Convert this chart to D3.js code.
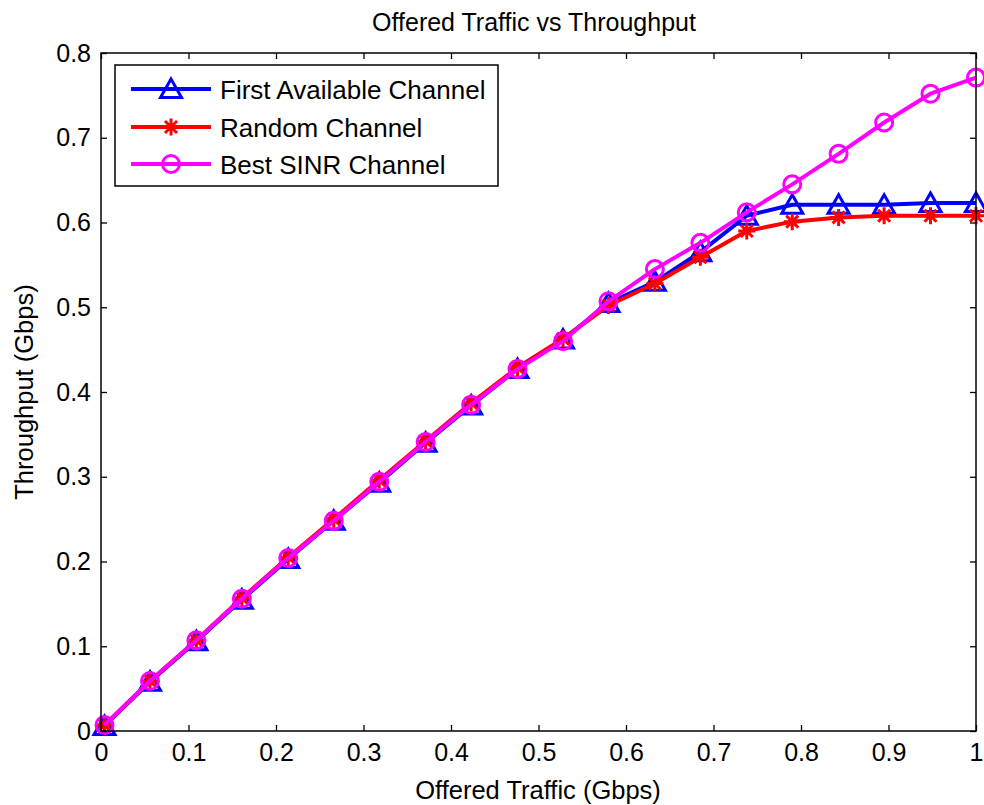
<!DOCTYPE html>
<html>
<head>
<meta charset="utf-8">
<script src="https://cdn.jsdelivr.net/npm/d3@7/dist/d3.min.js"></script>
<style>
html,body{margin:0;padding:0;background:#fff;}
svg text{font-family:"Liberation Sans",Arial,sans-serif;fill:#000;}
</style>
</head>
<body>
<svg id="chart" width="984" height="805"></svg>
<script>
// ---- data ----
const offered = [0.004, 0.056, 0.109, 0.161, 0.214, 0.266, 0.318, 0.371, 0.423, 0.476,
                 0.528, 0.580, 0.633, 0.685, 0.738, 0.790, 0.843, 0.895, 0.948, 1.0];
const firstAvailable = [0.006, 0.058, 0.106, 0.155, 0.203, 0.248, 0.293, 0.340, 0.384, 0.427,
                        0.462, 0.505, 0.530, 0.565, 0.608, 0.621, 0.621, 0.621, 0.623, 0.623];
const randomChannel = [0.007, 0.059, 0.107, 0.157, 0.205, 0.250, 0.296, 0.342, 0.387, 0.429,
                       0.463, 0.502, 0.528, 0.559, 0.590, 0.601, 0.606, 0.608, 0.608, 0.608];
const bestSINR = [0.007, 0.059, 0.107, 0.156, 0.204, 0.248, 0.294, 0.341, 0.385, 0.427,
                  0.460, 0.507, 0.545, 0.576, 0.612, 0.645, 0.681, 0.718, 0.752, 0.771];
const seriesNames = ["First Available Channel", "Random Channel", "Best SINR Channel"];
const xTicks = [0, 0.1, 0.2, 0.3, 0.4, 0.5, 0.6, 0.7, 0.8, 0.9, 1];
const yTicks = [0, 0.1, 0.2, 0.3, 0.4, 0.5, 0.6, 0.7, 0.8];
const titleText = "Offered Traffic vs Throughput";
const xLabelText = "Offered Traffic (Gbps)";
const yLabelText = "Throughput (Gbps)";

// ---- layout ----
const svg = d3.select("#chart");
const L = 101, R = 976, T = 53, B = 731;
const x = d3.scaleLinear().domain([0, 1]).range([L, R]);
const y = d3.scaleLinear().domain([0, 0.8]).range([B, T]);
const FS = 25;

const series = [
  {name: seriesNames[0], values: firstAvailable, color: "#0000ff", marker: "tri"},
  {name: seriesNames[1], values: randomChannel, color: "#ff0000", marker: "star"},
  {name: seriesNames[2], values: bestSINR, color: "#ff00ff", marker: "circle"}
];

function drawMarker(g, type, color, cx, cy) {
  if (type === "tri") {
    g.append("path")
      .attr("d", `M${cx},${cy-10}L${cx+10.5},${cy+8.5}L${cx-10.5},${cy+8.5}Z`)
      .attr("fill", "none").attr("stroke", color).attr("stroke-width", 3)
      .attr("stroke-linejoin", "miter");
  } else if (type === "circle") {
    g.append("circle").attr("cx", cx).attr("cy", cy).attr("r", 8.5)
      .attr("fill", "none").attr("stroke", color).attr("stroke-width", 3);
  } else {
    const s = 8.5, d = s * 0.7071;
    g.append("path")
      .attr("d", `M${cx-s},${cy}L${cx+s},${cy}M${cx},${cy-s}L${cx},${cy+s}` +
                 `M${cx-d},${cy-d}L${cx+d},${cy+d}M${cx-d},${cy+d}L${cx+d},${cy-d}`)
      .attr("stroke", color).attr("stroke-width", 3).attr("fill", "none");
  }
}

// lines & markers
const plot = svg.append("g");
const line = d3.line().x((d, i) => x(offered[i])).y(d => y(d));
series.forEach(s => {
  const g = plot.append("g");
  g.append("path").datum(s.values).attr("d", line)
    .attr("fill", "none").attr("stroke", s.color).attr("stroke-width", 4)
    .attr("stroke-linejoin", "round");
  s.values.forEach((v, i) => drawMarker(g, s.marker, s.color, x(offered[i]), y(v)));
});

// axes box with inward ticks (MATLAB style)
const axG = svg.append("g");
const tickLen = 6;
const xAxB = d3.axisBottom(x).tickValues(xTicks).tickSize(-tickLen).tickPadding(12)
  .tickFormat(d => d3.format("")(+d.toFixed(1)));
const xAxT = d3.axisTop(x).tickValues(xTicks).tickSize(-tickLen).tickFormat("");
const yAxL = d3.axisLeft(y).tickValues(yTicks).tickSize(-tickLen).tickPadding(10)
  .tickFormat(d => d3.format("")(+d.toFixed(1)));
const yAxR = d3.axisRight(y).tickValues(yTicks).tickSize(-tickLen).tickFormat("");

function styleAxis(g) {
  g.select(".domain").remove();
  g.selectAll(".tick line").attr("stroke", "#000").attr("stroke-width", 1.3);
  g.selectAll(".tick text").attr("font-size", FS).attr("font-family", '"Liberation Sans",Arial,sans-serif').attr("fill", "#000");
}
axG.append("g").attr("transform", `translate(0,${B})`).call(xAxB).call(styleAxis);
axG.append("g").attr("transform", `translate(0,${T})`).call(xAxT).call(styleAxis);
axG.append("g").attr("transform", `translate(${L},0)`).call(yAxL).call(styleAxis);
axG.append("g").attr("transform", `translate(${R},0)`).call(yAxR).call(styleAxis);
axG.append("rect").attr("x", L).attr("y", T).attr("width", R - L).attr("height", B - T)
  .attr("fill", "none").attr("stroke", "#000").attr("stroke-width", 1.5);

// title & labels
svg.append("text").attr("x", 534).attr("y", 31).attr("text-anchor", "middle")
  .attr("font-size", 25).text(titleText);
svg.append("text").attr("x", 538).attr("y", 799).attr("text-anchor", "middle")
  .attr("font-size", 25.5).text(xLabelText);
svg.append("text").attr("transform", `translate(33,${(T + B) / 2}) rotate(-90)`)
  .attr("text-anchor", "middle").attr("font-size", 25.5).text(yLabelText);

// legend
const lg = svg.append("g");
lg.append("rect").attr("x", 115).attr("y", 65).attr("width", 383).attr("height", 121)
  .attr("fill", "#fff").attr("stroke", "#000").attr("stroke-width", 1.5);
const rowY = [89, 127, 164];
series.forEach((s, i) => {
  const yy = rowY[i];
  lg.append("line").attr("x1", 131).attr("x2", 211).attr("y1", yy).attr("y2", yy)
    .attr("stroke", s.color).attr("stroke-width", 4);
  drawMarker(lg, s.marker, s.color, 171, yy);
  lg.append("text").attr("x", 220).attr("y", yy + 9.5).attr("font-size", 26).text(s.name);
});
</script>
</body>
</html>
